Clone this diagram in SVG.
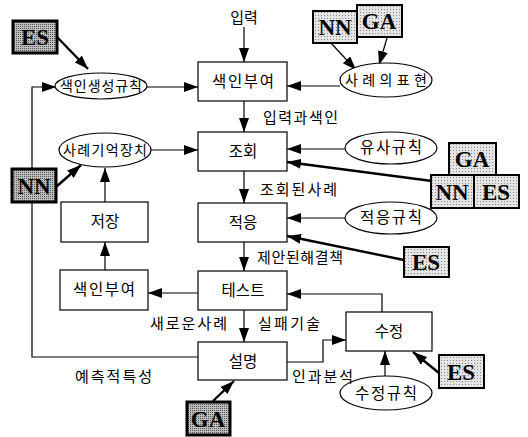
<svg xmlns="http://www.w3.org/2000/svg" width="528" height="437" viewBox="0 0 528 437">
<defs>
<marker id="ah" viewBox="0 0 14 10" refX="14" refY="5" markerWidth="14" markerHeight="10" markerUnits="userSpaceOnUse" orient="auto">
<path d="M0,0 L14,5 L0,10 z" fill="#000"/>
</marker>
<pattern id="dots" width="3" height="3" patternUnits="userSpaceOnUse">
<rect width="3" height="3" fill="#e4e4e4"/>
<rect width="1" height="1" fill="#888"/>
</pattern>
<pattern id="dots2" width="2" height="2" patternUnits="userSpaceOnUse">
<rect width="2" height="2" fill="#bdbdbd"/>
<rect width="1" height="1" fill="#555"/>
</pattern>
</defs>
<style>
.box{fill:#fff;stroke:#000;stroke-width:1.2}
.ell{fill:#fff;stroke:#000;stroke-width:1.2}
.sh{fill:url(#dots);stroke:#000;stroke-width:2}
.shd{fill:url(#dots2);stroke:#000;stroke-width:3}
.k{font-family:"Noto Sans CJK KR",sans-serif;font-size:15.5px;fill:#000;text-anchor:middle}
.ke{font-family:"Noto Sans CJK KR",sans-serif;font-size:14px;fill:#000;text-anchor:middle}
.lb{font-family:"Noto Sans CJK KR",sans-serif;font-size:15px;fill:#000}
.en{font-family:"Liberation Serif",serif;font-size:23px;font-weight:bold;fill:#000;text-anchor:middle}
.c{fill:none;stroke:#000;stroke-width:1.2;marker-end:url(#ah)}
.cb{fill:none;stroke:#000;stroke-width:2.4;marker-end:url(#ah)}
</style>
<rect width="528" height="437" fill="#fff"/>
<g id="connectors">
<line class="c" x1="244" y1="27" x2="244" y2="62"/>
<line class="cb" x1="57" y1="37" x2="88" y2="69"/>
<polyline class="c" points="199,357 32,357 32,87 56,87"/>
<line class="c" x1="147" y1="87" x2="198" y2="87"/>
<line class="c" x1="340" y1="86" x2="287" y2="86"/>
<line class="c" x1="331" y1="43" x2="356" y2="70"/>
<line class="c" x1="387" y1="38" x2="379" y2="65"/>
<line class="c" x1="244" y1="101" x2="244" y2="132"/>
<line class="c" x1="151" y1="150" x2="198" y2="150"/>
<line class="c" x1="345" y1="149" x2="287" y2="149"/>
<line class="cb" x1="432" y1="181" x2="287" y2="162"/>
<line class="cb" x1="56" y1="187" x2="81" y2="165"/>
<line class="c" x1="244" y1="171" x2="244" y2="203"/>
<line class="c" x1="105" y1="202" x2="105" y2="168"/>
<line class="c" x1="345" y1="218" x2="287" y2="218"/>
<line class="cb" x1="404" y1="260" x2="287" y2="236"/>
<line class="c" x1="244" y1="242" x2="244" y2="271"/>
<line class="c" x1="198" y1="293" x2="148" y2="293"/>
<line class="c" x1="105" y1="270" x2="105" y2="242"/>
<polyline class="c" points="382,312 382,294 287,294"/>
<line class="c" x1="244" y1="310" x2="244" y2="342"/>
<polyline class="c" points="287,362 323,362 323,340 346,340"/>
<line class="c" x1="385" y1="376" x2="385" y2="351"/>
<line class="cb" x1="439" y1="373" x2="413" y2="352"/>
<line class="cb" x1="213" y1="401" x2="234" y2="381"/>
</g>
<g id="n-input"><text class="lb" x="244" y="23" text-anchor="middle">입력</text></g>
<g id="n-index"><rect class="box" x="198" y="62" width="89" height="39"/><text class="k" x="243" y="87" textLength="62">색인부여</text></g>
<g id="n-retrieve"><rect class="box" x="198" y="132" width="89" height="39"/><text class="k" x="243" y="157">조회</text></g>
<g id="n-adapt"><rect class="box" x="198" y="203" width="89" height="39"/><text class="k" x="243" y="228">적응</text></g>
<g id="n-test"><rect class="box" x="198" y="271" width="89" height="39"/><text class="k" x="243" y="296">테스트</text></g>
<g id="n-explain"><rect class="box" x="198" y="342" width="89" height="38"/><text class="k" x="243" y="367">설명</text></g>
<g id="n-store"><rect class="box" x="61" y="202" width="87" height="40"/><text class="k" x="105" y="227">저장</text></g>
<g id="n-index2"><rect class="box" x="60" y="270" width="88" height="40"/><text class="k" x="104" y="295" textLength="62">색인부여</text></g>
<g id="n-repair"><rect class="box" x="346" y="312" width="86" height="39"/><text class="k" x="389" y="337">수정</text></g>
<g id="n-idxrule"><ellipse class="ell" cx="101" cy="86" rx="46" ry="13"/><text class="ke" x="101" y="91" textLength="82">색인생성규칙</text></g>
<g id="n-memory"><ellipse class="ell" cx="105" cy="150" rx="46" ry="17"/><text class="ke" x="105" y="155" textLength="84">사례기억장치</text></g>
<g id="n-repr"><ellipse class="ell" cx="386" cy="80" rx="46" ry="17"/><text class="ke" x="386" y="85" textLength="82">사례의표현</text></g>
<g id="n-simrule"><ellipse class="ell" cx="391" cy="148" rx="46" ry="16"/><text class="k" x="391" y="153" textLength="62">유사규칙</text></g>
<g id="n-adaptrule"><ellipse class="ell" cx="391" cy="218" rx="46" ry="16"/><text class="k" x="391" y="223" textLength="62">적응규칙</text></g>
<g id="n-repairrule"><ellipse class="ell" cx="386" cy="393" rx="46" ry="17"/><text class="k" x="386" y="399" textLength="62">수정규칙</text></g>
<g id="n-es1"><rect class="shd" x="13" y="21" width="44" height="32"/><text class="en" x="35" y="45">ES</text></g>
<g id="n-nn1"><rect class="shd" x="12" y="169" width="44" height="33"/><text class="en" x="34" y="194">NN</text></g>
<g id="n-nn2"><rect class="sh" x="313" y="11" width="44" height="32"/><text class="en" x="335" y="35" font-weight="normal">NN</text></g>
<g id="n-ga2"><rect class="sh" x="357" y="5" width="45" height="32"/><text class="en" x="379" y="29" font-weight="normal">GA</text></g>
<g id="n-ga3"><rect class="sh" x="449" y="143" width="47" height="32"/><text class="en" x="472" y="167" font-weight="normal">GA</text></g>
<g id="n-nn3"><rect class="sh" x="431" y="175" width="43" height="33"/><text class="en" x="452" y="200" font-weight="normal">NN</text></g>
<g id="n-es3"><rect class="sh" x="474" y="175" width="45" height="33"/><text class="en" x="496" y="200" font-weight="normal">ES</text></g>
<g id="n-es4"><rect class="sh" x="404" y="247" width="45" height="30" stroke-width="2.5"/><text class="en" x="426" y="270">ES</text></g>
<g id="n-es5"><rect class="sh" x="439" y="355" width="45" height="33" stroke-width="2.5"/><text class="en" x="461" y="380">ES</text></g>
<g id="n-ga6"><rect class="shd" x="187" y="402" width="43" height="33"/><text class="en" x="208" y="427">GA</text></g>
<g id="labels">
<text class="lb" x="263" y="123" textLength="75">입력과색인</text>
<text class="lb" x="260" y="195" textLength="77">조회된사례</text>
<text class="lb" x="257" y="263" textLength="86">제안된해결책</text>
<text class="lb" x="150" y="329" textLength="77">새로운사례</text>
<text class="lb" x="258" y="329" textLength="62">실패기술</text>
<text class="lb" x="292" y="382" textLength="61">인과분석</text>
<text class="lb" x="75" y="382" textLength="77">예측적특성</text>
</g>
</svg>
